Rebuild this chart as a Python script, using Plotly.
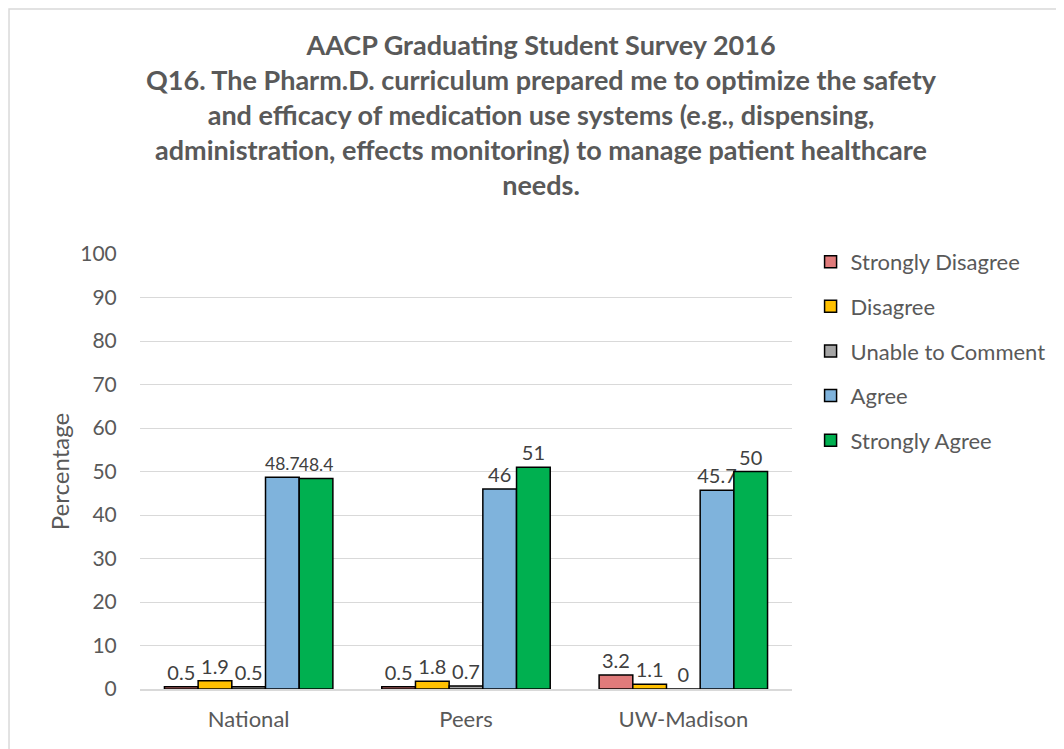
import plotly.graph_objects as go

categories = ["National", "Peers", "UW-Madison"]
series_names = ["Strongly Disagree", "Disagree", "Unable to Comment", "Agree", "Strongly Agree"]
strongly_disagree = [0.5, 0.5, 3.2]
disagree = [1.9, 1.8, 1.1]
unable_to_comment = [0.5, 0.7, 0]
agree = [48.7, 46, 45.7]
strongly_agree = [48.4, 51, 50]

series_values = [strongly_disagree, disagree, unable_to_comment, agree, strongly_agree]
colors = ["#e07b7b", "#ffc000", "#a5a5a5", "#7fb3dc", "#00b050"]

FONT = "Lato, Open Sans, sans-serif"
GREY = "#595959"

fig = go.Figure()
for name, vals, col in zip(series_names, series_values, colors):
    # the two tall National labels sit side by side; keep them a touch smaller so they don't collide
    sizes = [17.5 if (c == "National" and v > 40) else 20 for c, v in zip(categories, vals)]
    fig.add_trace(go.Bar(
        x=categories,
        y=vals,
        name=name,
        legendgroup=name,
        marker=dict(color=col, line=dict(color="#000000", width=1.5)),
        text=[f"{v:g}" for v in vals],
        textposition="outside",
        textfont=dict(size=sizes, color="#404040", family=FONT),
        constraintext="none",
        cliponaxis=False,
    ))

title = ("AACP Graduating Student Survey 2016<br>"
         "Q16. The Pharm.D. curriculum prepared me to optimize the safety<br>"
         "and efficacy of medication use systems (e.g., dispensing,<br>"
         "administration, effects monitoring) to manage patient healthcare<br>"
         "needs.")

fig.update_layout(
    width=1064,
    height=749,
    paper_bgcolor="white",
    plot_bgcolor="white",
    font=dict(family=FONT, color=GREY),
    title=dict(text="<b>" + title + "</b>", x=533 / 1064, xanchor="center",
               y=1 - 47 / 749, yanchor="top",
               font=dict(size=27, color=GREY, family=FONT)),
    barmode="group",
    bargap=0.225,
    bargroupgap=0,
    margin=dict(l=132, r=280, t=246, b=68),
    xaxis=dict(showgrid=False, showline=True, linecolor="#d9d9d9", linewidth=1.5,
               ticks="outside", ticklen=10, tickcolor="rgba(0,0,0,0)",
               tickfont=dict(size=22, color=GREY)),
    yaxis=dict(range=[0, 100], dtick=10, showgrid=True, gridcolor="#d9d9d9",
               gridwidth=1, zeroline=False, showline=False,
               ticks="outside", ticklen=18, tickcolor="rgba(0,0,0,0)",
               tickfont=dict(size=21, color=GREY),
               title=dict(text="Percentage", font=dict(size=24, color=GREY), standoff=3)),
    legend=dict(x=1.0285, xanchor="left", y=1.03, yanchor="top",
                font=dict(size=22, color=GREY), tracegroupgap=13,
                itemwidth=30),
    showlegend=True,
)

# chart-area border
fig.add_shape(type="rect", xref="paper", yref="paper",
              x0=-0.2009, x1=1.5, y0=-0.3, y1=1.563,
              line=dict(color="#d9d9d9", width=1.5), fillcolor="rgba(0,0,0,0)",
              layer="below")

fig.write_html("out.html")
